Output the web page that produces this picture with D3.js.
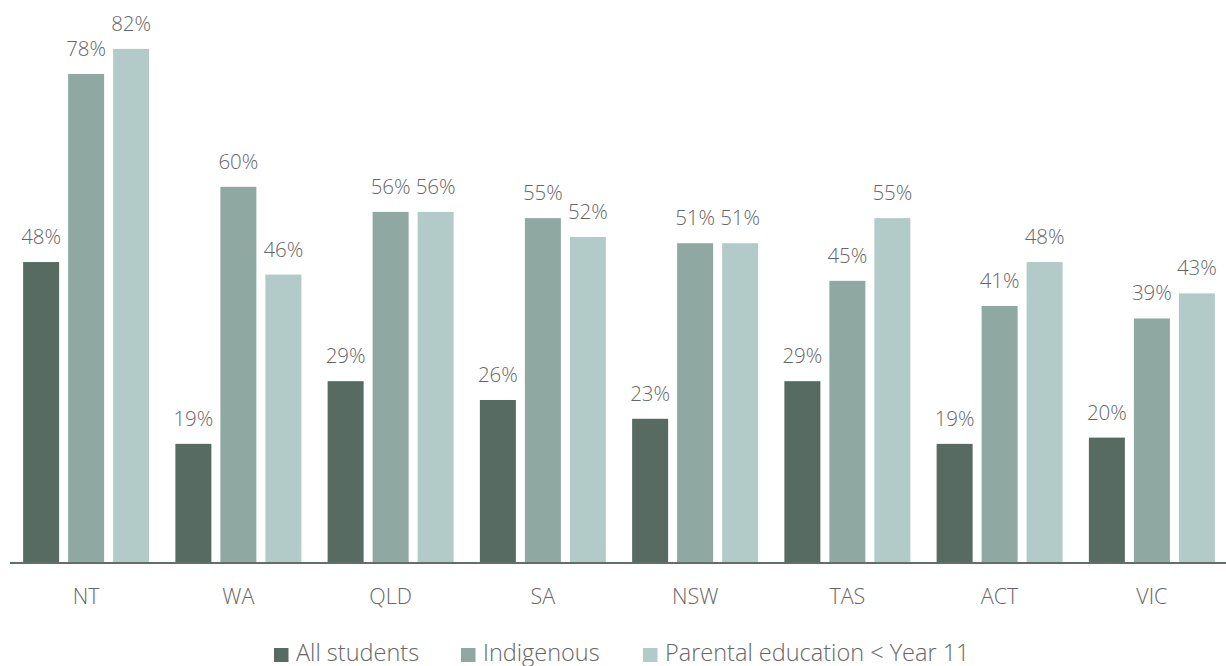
<!DOCTYPE html>
<html>
<head>
<meta charset="utf-8">
<script src="https://cdn.jsdelivr.net/npm/d3@7/dist/d3.min.js"></script>
<style>
  html, body { margin: 0; padding: 0; background: #fff; }
  svg { display: block; font-family: "Open Sans", "Noto Sans", sans-serif; font-weight: 300; }
</style>
</head>
<body>
<svg id="chart" width="1226" height="666"></svg>
<script>
// States / territories along the x axis
const states = ["NT", "WA", "QLD", "SA", "NSW", "TAS", "ACT", "VIC"];

// Series names (legend order)
const seriesNames = ["All students", "Indigenous", "Parental education < Year 11"];

// Percentages per state, one array per series
const allStudents = [48, 19, 29, 26, 23, 29, 19, 20];
const indigenous  = [78, 60, 56, 55, 51, 45, 41, 39];
const parentalEd  = [82, 46, 56, 52, 51, 55, 48, 43];

const seriesColors = ["#576b62", "#8fa8a1", "#b2cbc8"];

const W = 1226, H = 666;
const baseY = 563;

const seriesValues = [allStudents, indigenous, parentalEd];
const rows = states.map((s, i) => ({
  state: s,
  values: seriesNames.map((n, k) => ({ key: n, k, value: seriesValues[k][i] }))
}));

const svg = d3.select("#chart");

const x0 = d3.scaleBand().domain(states).range([10, 1228]).padding(0);
const x1 = d3.scaleBand().domain(seriesNames).range([-67.5, 67.5])
  .paddingInner(0.2).paddingOuter(0.1);
const y = d3.scaleLinear().domain([0, 100]).range([baseY, baseY - 627]);
const color = d3.scaleOrdinal().domain(seriesNames).range(seriesColors);

const groups = svg.append("g").selectAll("g")
  .data(rows).join("g")
  .attr("transform", d => `translate(${x0(d.state) + x0.bandwidth() / 2},0)`);

groups.selectAll("rect")
  .data(d => d.values).join("rect")
  .attr("x", d => x1(d.key))
  .attr("width", x1.bandwidth())
  .attr("y", d => y(d.value))
  .attr("height", d => baseY - y(d.value))
  .attr("fill", d => color(d.key));

groups.selectAll("text.val")
  .data(d => d.values).join("text")
  .attr("class", "val")
  .attr("x", d => x1(d.key) + x1.bandwidth() / 2)
  .attr("y", d => y(d.value) - 18)
  .attr("text-anchor", "middle")
  .attr("font-size", 20.5)
  .attr("fill", "#666")
  .text(d => d.value + "%");

// Category axis
const xAxis = svg.append("g")
  .attr("transform", `translate(0,${baseY})`)
  .call(d3.axisBottom(x0).tickSize(0).tickPadding(0));
xAxis.attr("font-family", null).attr("font-size", null);
xAxis.select(".domain").remove();
xAxis.selectAll("text")
  .attr("y", 41)
  .attr("dy", null)
  .attr("font-size", 21.5)
  .attr("fill", "#666");

svg.append("line")
  .attr("x1", 10).attr("x2", W)
  .attr("y1", baseY).attr("y2", baseY)
  .attr("stroke", "#5d7167").attr("stroke-width", 2);

// Legend
const legendX = [274, 461, 643];
const legend = svg.append("g").selectAll("g")
  .data(seriesNames).join("g")
  .attr("transform", (d, i) => `translate(${legendX[i]},661)`);
legend.append("rect")
  .attr("x", 0).attr("y", -13).attr("width", 14.5).attr("height", 14)
  .attr("fill", d => color(d));
legend.append("text")
  .attr("x", 22).attr("y", 0)
  .attr("font-size", 23.5)
  .attr("fill", "#666")
  .text(d => d);
</script>
</body>
</html>
